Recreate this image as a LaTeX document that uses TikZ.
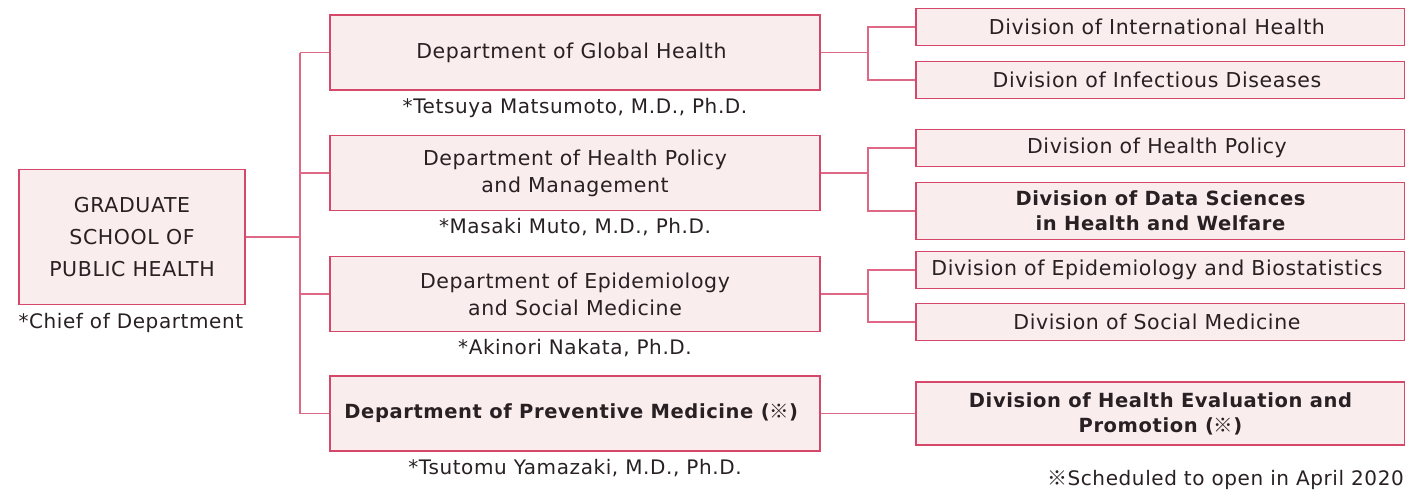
\documentclass[tikz,border=0pt]{standalone}
\usepackage{fontspec}
\setmainfont{DejaVu Sans}[LetterSpace=3]
\newfontfamily\cjk{Noto Sans CJK JP}
\usetikzlibrary{
  positioning,
  calc}
\newcommand{\kome}{{\cjk ※}}
\definecolor{boxcolor}{RGB}{214,72,106}
\definecolor{fillcolor}{RGB}{250,237,238}
\definecolor{linkcolor}{RGB}{222,104,134}
\definecolor{textcolor}{RGB}{40,32,34}
\tikzset{
  %% school : the graduate school (root)
  school/.style={
    rectangle,
    draw=boxcolor,
    fill=fillcolor,
    line width=1.4pt,
    minimum width=226pt,
    minimum height=135pt,
    inner sep=0pt,
    align=center,
    font=\fontsize{20.5}{32}\selectfont
  },
  %% dept : a department
  dept/.style={
    rectangle,
    draw=boxcolor,
    fill=fillcolor,
    line width=1.4pt,
    minimum width=490pt,
    minimum height=75pt,
    inner sep=0pt,
    align=center,
    font=\fontsize{20.5}{27}\selectfont
  },
  %% division : a division of a department
  division/.style={
    rectangle,
    draw=boxcolor,
    fill=fillcolor,
    line width=1.4pt,
    minimum width=489pt,
    minimum height=37pt,
    inner sep=0pt,
    align=center,
    font=\fontsize{20.5}{24.5}\selectfont
  },
  %% boldtext : text of the new units
  boldtext/.style={
    font=\fontsize{19.5}{25}\selectfont\bfseries
  },
  %% chief : name of the chief below a department
  chief/.style={
    inner sep=0pt,
    font=\fontsize{20}{24}\selectfont
  },
  %% link : connection between boxes
  link/.style={linkcolor, line width=1.4pt}
}

\begin{document}
\begin{tikzpicture}
  [x=1pt,
  y=-1pt,
  color=textcolor]

  \useasboundingbox (0, 0) rectangle (1405, 491);

  %% Root
  \node (root) [school] at (132, 237) {%
    GRADUATE\\
    SCHOOL OF\\
    PUBLIC HEALTH
  };
  \node (rootnote) [chief, below=8pt of root.south west, anchor=north west]{%
    *Chief of Department
  };

  %% Departments
  \node (dglobal) [dept] at (575, 52.5) {%
    Department of Global Health
  };
  \node (dpolicy) [dept] at (575, 173) {%
    Department of Health Policy\\
    and Management
  };
  \node (depi) [dept] at (575, 294) {%
    Department of Epidemiology\\
    and Social Medicine
  };
  \node (dprev) [dept, boldtext] at (575, 413.5) {%
    Department of Preventive Medicine (\kome)
  };

  %% Chiefs
  \node (cglobal) [chief, below=7pt of dglobal]{%
    *Tetsuya Matsumoto, M.D., Ph.D.
  };
  \node (cpolicy) [chief, below=7pt of dpolicy]{%
    *Masaki Muto, M.D., Ph.D.
  };
  \node (cepi) [chief, below=7pt of depi]{%
    *Akinori Nakata, Ph.D.
  };
  \node (cprev) [chief, below=7pt of dprev]{%
    *Tsutomu Yamazaki, M.D., Ph.D.
  };

  %% Divisions
  \node (vintl) [division] at (1160.5, 27) {%
    Division of International Health
  };
  \node (vinf) [division] at (1160.5, 80) {%
    Division of Infectious Diseases
  };
  \node (vpolicy) [division] at (1160.5, 148) {%
    Division of Health Policy
  };
  \node (vdata) [division, minimum height=57pt, boldtext] at (1160.5, 211) {%
    Division of Data Sciences\\
    in Health and Welfare
  };
  \node (vbio) [division] at (1160.5, 270) {%
    Division of Epidemiology and Biostatistics
  };
  \node (vsocial) [division] at (1160.5, 322) {%
    Division of Social Medicine
  };
  \node (veval) [division, minimum height=63pt, boldtext] at (1160.5, 413.5) {%
    Division of Health Evaluation and\\
    Promotion (\kome)
  };

  \node (footnote) [chief, anchor=east] at (1404, 479.5) {%
    \kome Scheduled to open in April 2020
  };

  %% Connections
  \coordinate (trunk) at (300, 0);
  \coordinate (fork) at (868, 0);

  \draw [link] (root) -- (root -| trunk);
  \draw [link] (dglobal.west -| trunk) -- (dprev.west -| trunk);
  \draw [link] (dglobal.west -| trunk) -- (dglobal.west);
  \draw [link] (dpolicy.west -| trunk) -- (dpolicy.west);
  \draw [link] (depi.west -| trunk) -- (depi.west);
  \draw [link] (dprev.west -| trunk) -- (dprev.west);

  \draw [link] (dglobal.east) -- (dglobal.east -| fork) |- (vintl.west);
  \draw [link] (dglobal.east -| fork) |- (vinf.west);
  \draw [link] (dpolicy.east) -- (dpolicy.east -| fork) |- (vpolicy.west);
  \draw [link] (dpolicy.east -| fork) |- (vdata.west);
  \draw [link] (depi.east) -- (depi.east -| fork) |- (vbio.west);
  \draw [link] (depi.east -| fork) |- (vsocial.west);
  \draw [link] (dprev) -- (veval);

\end{tikzpicture}
\end{document}
